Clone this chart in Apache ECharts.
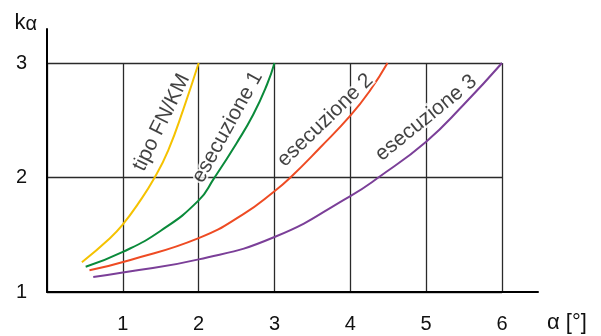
<!DOCTYPE html>
<html>
<head>
<meta charset="utf-8">
<script src="https://cdn.jsdelivr.net/npm/echarts@6/dist/echarts.min.js"></script>
<style>html,body{margin:0;padding:0;background:#fff}#c{width:601px;height:336px}</style>
</head>
<body>
<div id="c"></div>
<script>
// ---- data ----
const xTicks = [1, 2, 3, 4, 5, 6];
const yTicks = [1, 2, 3];
const curveNames = ['tipo FN/KM', 'esecuzione 1', 'esecuzione 2', 'esecuzione 3'];
const tipoFNKM = [[0.46,1.26],[0.83,1.47],[1.0,1.59],[1.2,1.77],[1.42,2.0],[1.6,2.24],[1.8,2.6],[2.0,3.0]];
const esecuzione1 = [[0.51,1.22],[1.0,1.35],[1.5,1.535],[2.0,1.80],[2.2,1.99],[2.5,2.30],[2.72,2.55],[2.9,2.81],[3.0,3.0]];
const esecuzione2 = [[0.56,1.19],[1.1,1.28],[2.0,1.47],[2.59,1.68],[3.0,1.88],[3.21,2.0],[3.60,2.26],[4.0,2.54],[4.26,2.76],[4.49,3.0]];
const esecuzione3 = [[0.61,1.13],[1.0,1.17],[2.0,1.285],[3.0,1.48],[4.0,1.838],[4.37,2.0],[5.0,2.313],[5.49,2.633],[6.0,3.0]];

const FONT = "'Liberation Sans', Arial, sans-serif";
const colors = ['#f5c200', '#0a8a3a', '#ee4b23', '#7b3f98'];
const curves = [tipoFNKM, esecuzione1, esecuzione2, esecuzione3];
// label anchors (data coords) and rotation for the in-plot curve names
const labelCfg = [
  {at: [1.51, 2.48], rotate: 64},
  {at: [2.38, 2.44], rotate: 61},
  {at: [3.67, 2.50], rotate: 44},
  {at: [5.00, 2.52], rotate: 39}
];

const chart = echarts.init(document.getElementById('c'), null, {renderer: 'canvas'});

const series = [];
curves.forEach((d, i) => {
  series.push({
    type: 'line', name: curveNames[i], data: d, xAxisIndex: 1, yAxisIndex: 1,
    smooth: 0.5, showSymbol: false, symbol: 'none',
    lineStyle: {color: colors[i], width: 2}, z: 3, silent: true
  });
});
curveNames.forEach((n, i) => {
  series.push({
    type: 'scatter', xAxisIndex: 1, yAxisIndex: 1, symbolSize: 0, z: 5, silent: true,
    data: [labelCfg[i].at],
    label: {
      show: true, position: 'inside', formatter: n, rotate: labelCfg[i].rotate,
      fontFamily: FONT, fontSize: 21, color: '#111',
      textBorderColor: '#fff', textBorderWidth: 4
    }
  });
});

chart.setOption({
  animation: false,
  backgroundColor: '#fff',
  grid: [
    {left: 47, right: 63, top: 29, bottom: 44},
    {left: 47, right: 99, top: 63, bottom: 44}
  ],
  xAxis: [
    {gridIndex: 0, type: 'value', min: 0, max: 1,
     axisLine: {show: true, lineStyle: {color: '#000', width: 2}},
     axisTick: {show: false}, axisLabel: {show: false}, splitLine: {show: false},
     name: 'α [°]', nameLocation: 'end', nameGap: 9,
     nameTextStyle: {fontFamily: FONT, fontSize: 22, color: '#111', verticalAlign: 'top', padding: [20, 0, 0, 0]}},
    {gridIndex: 1, type: 'value', min: 0, max: 6, interval: 1,
     axisLine: {show: false}, axisTick: {show: false},
     axisLabel: {fontFamily: FONT, fontSize: 20, color: '#111', margin: 22,
       formatter: v => xTicks.indexOf(v) >= 0 ? String(v) : ''},
     splitLine: {show: true, lineStyle: {color: '#2a2a2a', width: 1.3}}}
  ],
  yAxis: [
    {gridIndex: 0, type: 'value', min: 0, max: 1,
     axisLine: {show: true, lineStyle: {color: '#000', width: 2}},
     axisTick: {show: false}, axisLabel: {show: false}, splitLine: {show: false},
     name: '{k|k}{a|α}', nameLocation: 'end', nameGap: -5,
     nameTextStyle: {align: 'right', padding: [0, 10, 0, 0],
       rich: {k: {fontFamily: FONT, fontSize: 22, color: '#111', lineHeight: 22, verticalAlign: 'top'},
              a: {fontFamily: FONT, fontSize: 20, color: '#111', lineHeight: 22, padding: [4, 0, 0, 0], verticalAlign: 'bottom'}}}},
    {gridIndex: 1, type: 'value', min: 1, max: 3, interval: 1,
     axisLine: {show: false}, axisTick: {show: false},
     axisLabel: {fontFamily: FONT, fontSize: 20, color: '#111', margin: 20,
       formatter: v => yTicks.indexOf(v) >= 0 ? String(v) : ''},
     splitLine: {show: true, lineStyle: {color: '#2a2a2a', width: 1.3}}}
  ],
  series: series
});
</script>
</body>
</html>
